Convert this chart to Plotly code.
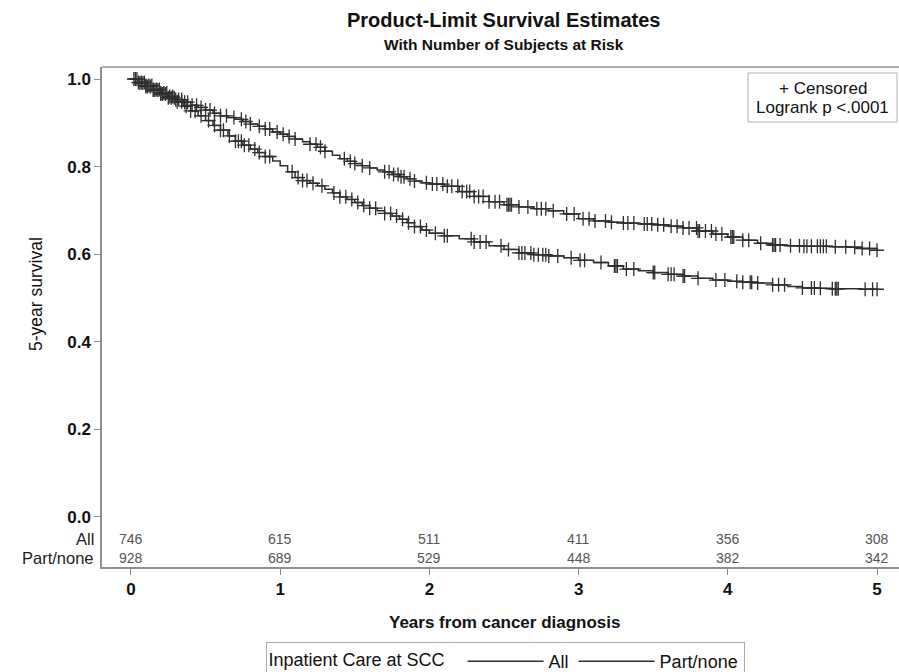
import numpy as np
import plotly.graph_objects as go

# ---------------- data ----------------
groups = ["All", "Part/none"]

time_all = [0, 0.05, 0.1, 0.15, 0.2, 0.25, 0.3, 0.35, 0.4, 0.45, 0.5, 0.55, 0.6, 0.65, 0.7, 0.75,
            0.8, 0.85, 0.9, 0.95, 1.0, 1.05, 1.1, 1.15, 1.2, 1.25, 1.3, 1.35, 1.4, 1.45, 1.5, 1.55,
            1.6, 1.65, 1.7, 1.75, 1.8, 1.85, 1.9, 1.95, 2.0, 2.1, 2.2, 2.3, 2.4, 2.5, 2.6, 2.7, 2.8,
            2.9, 3.0, 3.1, 3.2, 3.3, 3.4, 3.5, 3.6, 3.7, 3.8, 3.9, 4.0, 4.1, 4.2, 4.3, 4.4, 4.5,
            4.6, 4.7, 4.8, 4.9, 5.0]
surv_all = [1.0, 0.992, 0.985, 0.976, 0.968, 0.960, 0.953, 0.947, 0.940, 0.935, 0.929, 0.922,
            0.916, 0.912, 0.908, 0.903, 0.897, 0.892, 0.886, 0.879, 0.874, 0.869, 0.863, 0.857,
            0.851, 0.844, 0.835, 0.826, 0.818, 0.812, 0.807, 0.802, 0.797, 0.792, 0.788, 0.782,
            0.777, 0.772, 0.767, 0.763, 0.760, 0.755, 0.743, 0.732, 0.720, 0.713, 0.708, 0.704,
            0.699, 0.692, 0.681, 0.676, 0.673, 0.671, 0.669, 0.667, 0.664, 0.660, 0.653, 0.646,
            0.639, 0.632, 0.625, 0.621, 0.619, 0.618, 0.618, 0.617, 0.616, 0.613, 0.609]

time_part = time_all
surv_part = [1.0, 0.991, 0.983, 0.975, 0.966, 0.957, 0.948, 0.938, 0.927, 0.916, 0.905, 0.894,
             0.883, 0.870, 0.858, 0.849, 0.840, 0.832, 0.823, 0.813, 0.802, 0.788, 0.775, 0.768,
             0.762, 0.756, 0.748, 0.740, 0.731, 0.725, 0.718, 0.711, 0.705, 0.699, 0.693, 0.687,
             0.680, 0.672, 0.663, 0.655, 0.648, 0.642, 0.635, 0.628, 0.619, 0.611, 0.603, 0.599,
             0.596, 0.592, 0.586, 0.581, 0.573, 0.566, 0.562, 0.558, 0.554, 0.550, 0.545, 0.541,
             0.538, 0.536, 0.534, 0.530, 0.526, 0.523, 0.522, 0.521, 0.521, 0.520, 0.520]

cens_all = [0.03, 0.05, 0.07, 0.09, 0.1, 0.12, 0.14, 0.15, 0.17, 0.19, 0.2, 0.22, 0.24, 0.26, 0.28,
            0.3, 0.32, 0.34, 0.36, 0.38, 0.41, 0.44, 0.47, 0.5, 0.53, 0.56, 0.6, 0.64, 0.69, 0.74,
            0.77, 0.8, 0.86, 0.9, 0.93, 0.98, 1.02, 1.06, 1.1, 1.2, 1.24, 1.27, 1.3, 1.43, 1.47,
            1.5, 1.55, 1.6, 1.7, 1.73, 1.76, 1.79, 1.81, 1.83, 1.87, 1.9, 1.98, 2.02, 2.05, 2.09,
            2.12, 2.15, 2.19, 2.22, 2.25, 2.27, 2.3, 2.33, 2.36, 2.4, 2.44, 2.47, 2.52, 2.53, 2.54,
            2.55, 2.6, 2.66, 2.72, 2.75, 2.78, 2.83, 2.92, 2.97, 3.03, 3.07, 3.11, 3.18, 3.22, 3.3,
            3.33, 3.37, 3.44, 3.46, 3.49, 3.53, 3.57, 3.62, 3.66, 3.7, 3.74, 3.79, 3.8, 3.81, 3.85,
            3.89, 3.92, 3.96, 4.02, 4.03, 4.04, 4.1, 4.14, 4.22, 4.3, 4.31, 4.32, 4.35, 4.42, 4.48,
            4.51, 4.53, 4.56, 4.6, 4.62, 4.64, 4.66, 4.72, 4.79, 4.85, 4.9, 4.95, 5.0]
cens_part = [0.02, 0.04, 0.06, 0.08, 0.1, 0.11, 0.13, 0.15, 0.16, 0.18, 0.2, 0.21, 0.23, 0.25,
             0.27, 0.29, 0.31, 0.34, 0.37, 0.4, 0.43, 0.47, 0.52, 0.56, 0.6, 0.62, 0.66, 0.7, 0.72,
             0.74, 0.76, 0.79, 0.83, 0.86, 0.9, 0.93, 1.08, 1.12, 1.15, 1.18, 1.22, 1.28, 1.36, 1.4,
             1.44, 1.48, 1.52, 1.56, 1.6, 1.64, 1.7, 1.74, 1.78, 1.82, 1.86, 1.9, 1.94, 1.98, 2.04,
             2.1, 2.12, 2.28, 2.3, 2.34, 2.38, 2.48, 2.53, 2.6, 2.62, 2.64, 2.68, 2.7, 2.73, 2.76,
             2.78, 2.8, 2.86, 2.95, 3.01, 3.04, 3.15, 3.24, 3.25, 3.26, 3.32, 3.37, 3.5, 3.51, 3.6,
             3.62, 3.64, 3.7, 3.71, 3.8, 3.92, 3.98, 4.06, 4.1, 4.15, 4.16, 4.2, 4.3, 4.34, 4.38,
             4.5, 4.56, 4.58, 4.62, 4.7, 4.72, 4.73, 4.74, 4.92, 4.97, 5.0]

risk_times = [0, 1, 2, 3, 4, 5]
risk_all = [746, 615, 511, 411, 356, 308]
risk_part = [928, 689, 529, 448, 382, 342]
y_ticks = [0, 0.2, 0.4, 0.6, 0.8, 1.0]

# ---------------- figure ----------------
W, H = 899, 672
L, R, T, B = 102, 0, 67, 105
pw, ph = W - L - R, H - T - B
X0, X1 = -0.194, 5.147
Y0, Y1 = -0.1142, 1.0274

FONT = "Liberation Sans, Arial, sans-serif"
INK = "#2e2e2e"
FRAME = "#8f8f8f"


def surv_at(times, surv, pts):
    idx = np.searchsorted(np.asarray(times), np.asarray(pts), side="right") - 1
    return np.asarray(surv)[idx]


fig = go.Figure()
curves = [(time_all, surv_all, cens_all), (time_part, surv_part, cens_part)]
for name, (t, s, c) in zip(groups, curves):
    fig.add_trace(go.Scatter(x=t, y=s, mode="lines", line=dict(color=INK, width=1.5, shape="hv"),
                             name=name, showlegend=True, hoverinfo="skip"))
    fig.add_trace(go.Scatter(x=c, y=surv_at(t, s, c), mode="markers", showlegend=False,
                             marker=dict(symbol="cross-thin", size=10, line=dict(color=INK, width=1.3)),
                             hoverinfo="skip"))


def px_x(p):
    return (p - L) / pw


def px_y(p):
    return (H - B - p) / ph


ann = []
ann.append(dict(text="<b>Product-Limit Survival Estimates</b>", x=px_x(504), y=px_y(20),
                font=dict(size=20, color="#111")))
ann.append(dict(text="<b>With Number of Subjects at Risk</b>", x=px_x(504), y=px_y(45),
                font=dict(size=15.5, color="#111")))
ann.append(dict(text="<b>Years from cancer diagnosis</b>", x=px_x(505), y=px_y(622),
                font=dict(size=17, color="#111")))
ann.append(dict(text="5-year survival", x=px_x(36), y=px_y(294), textangle=-90,
                font=dict(size=17.5, color="#111")))
for a in ann:
    a.update(xref="paper", yref="paper", showarrow=False, xanchor="center", yanchor="middle",
             font=dict(family=FONT, **a["font"]))

# at-risk table
row_y = [-0.0514, -0.0936]
for name, vals, yv in zip(groups, [risk_all, risk_part], row_y):
    ann.append(dict(text=name, xref="paper", yref="y", x=px_x(96), y=yv, xanchor="right",
                    yanchor="middle", showarrow=False, font=dict(family=FONT, size=16.5, color="#222")))
    for tv, v in zip(risk_times, vals):
        ann.append(dict(text=str(v), xref="x", yref="y", x=tv, y=yv, xanchor="center",
                        yanchor="middle", showarrow=False, font=dict(family=FONT, size=14, color="#555")))

# censored / logrank box
for txt, yp in [("+ Censored", 88), ("Logrank p &lt;.0001", 108)]:
    ann.append(dict(text=txt, xref="paper", yref="paper", x=px_x(822.5), y=px_y(yp),
                    xanchor="center", yanchor="middle", showarrow=False,
                    font=dict(family=FONT, size=17, color="#111")))

shapes = [
    dict(type="line", xref="paper", yref="paper", x0=0, x1=1, y0=1, y1=1,
         line=dict(color=FRAME, width=1.5)),
    dict(type="rect", xref="paper", yref="paper", x0=px_x(748), x1=px_x(897),
         y0=px_y(122), y1=px_y(73), line=dict(color="#b0b0b0", width=1), fillcolor="white",
         layer="below"),
]

fig.update_layout(
    width=W, height=H, margin=dict(l=L, r=R, t=T, b=B, autoexpand=False),
    paper_bgcolor="white", plot_bgcolor="white",
    font=dict(family=FONT, color="#111"),
    annotations=ann,
    shapes=shapes,
    xaxis=dict(range=[X0, X1], tickvals=risk_times,
               ticktext=["<b>%d</b>" % v for v in risk_times],
               ticks="outside", ticklen=6, tickwidth=1.2,
               tickcolor=FRAME, showline=True, linecolor=FRAME, linewidth=1.5, showgrid=False,
               zeroline=False, tickfont=dict(family=FONT, size=17, color="#111")),
    yaxis=dict(range=[Y0, Y1], tickvals=y_ticks,
               ticktext=["<b>%.1f</b>" % v for v in y_ticks],
               ticks="outside", ticklen=6, tickwidth=1.2, tickcolor=FRAME, showline=True,
               linecolor=FRAME, linewidth=1.5, showgrid=False, zeroline=False,
               tickfont=dict(family=FONT, size=17, color="#111")),
    legend=dict(orientation="h", xref="container", yref="container",
                x=505 / W, xanchor="center", y=(H - 642) / H, yanchor="top",
                bordercolor="#aaaaaa", borderwidth=1,
                font=dict(family=FONT, size=18, color="#111"), itemwidth=76,
                title=dict(text="Inpatient Care at SCC  ", side="left",
                           font=dict(family=FONT, size=18, color="#111"))),
)

fig.write_html("out.html", config={"displayModeBar": False},
               post_script="document.body.style.margin='0px';document.body.style.overflow='hidden';")
